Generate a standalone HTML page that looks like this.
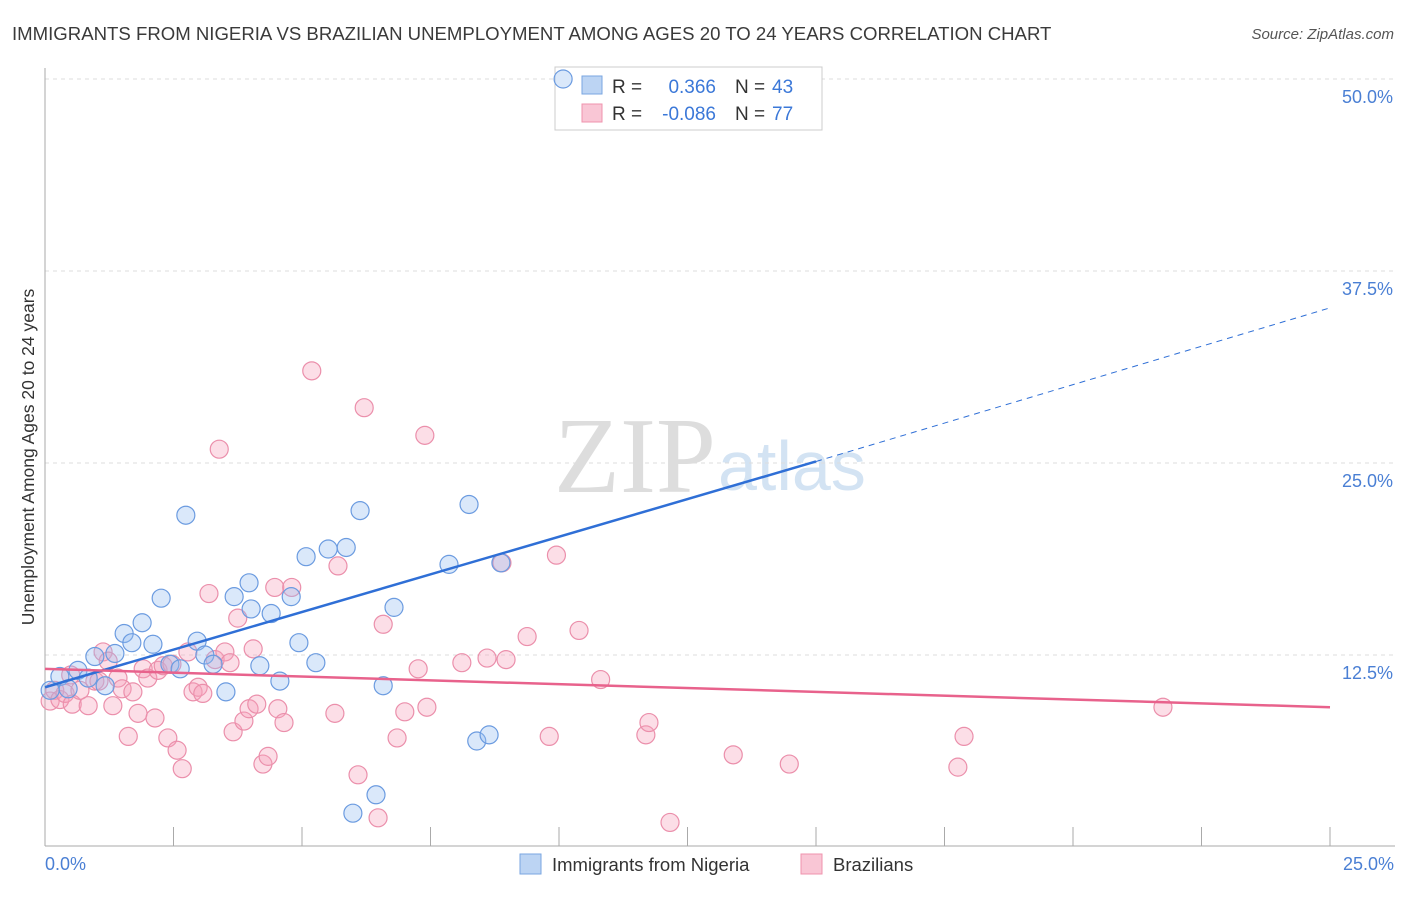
<!DOCTYPE html>
<html><head><meta charset="utf-8"><style>
body{margin:0;background:#fff;font-family:"Liberation Sans",sans-serif}
</style></head><body>
<svg width="1406" height="892" id="chart">
<text x="12" y="40" font-size="18.6" fill="#3a3a3a">IMMIGRANTS FROM NIGERIA VS BRAZILIAN UNEMPLOYMENT AMONG AGES 20 TO 24 YEARS CORRELATION CHART</text>
<text x="1394" y="39" font-size="15" fill="#555" font-style="italic" text-anchor="end">Source: ZipAtlas.com</text>
<text x="716" y="492" font-size="108" fill="#ddd" text-anchor="end" font-family="Liberation Serif">ZIP</text>
<text x="718" y="490" font-size="70" fill="#d3e3f3">atlas</text>
<g id="grid"></g>
<line x1="45" y1="68" x2="45" y2="846" stroke="#aaa"/>
<line x1="45" y1="846" x2="1395" y2="846" stroke="#aaa"/>
<text transform="translate(34,457) rotate(-90)" font-size="17.5" fill="#333" text-anchor="middle">Unemployment Among Ages 20 to 24 years</text>
<text x="45" y="870" font-size="18" fill="#4a7fd4">0.0%</text>
<text x="1394" y="870" font-size="18" fill="#4a7fd4" text-anchor="end">25.0%</text>
<g>
<rect x="555" y="67" width="267" height="63" fill="#fff" stroke="#ccc"/>
<rect x="582" y="76" width="20" height="18" fill="#bcd4f3" stroke="#7aa6e0"/>
<rect x="582" y="104" width="20" height="18" fill="#f9c6d5" stroke="#ef93ad"/>
<text x="612" y="93" font-size="19" fill="#333">R =</text><text x="716" y="93" font-size="19" fill="#3b78d8" text-anchor="end">0.366</text>
<text x="735" y="93" font-size="19" fill="#333">N =</text><text x="772" y="93" font-size="19" fill="#3b78d8">43</text>
<text x="612" y="120" font-size="19" fill="#333">R =</text><text x="716" y="120" font-size="19" fill="#3b78d8" text-anchor="end">-0.086</text>
<text x="735" y="120" font-size="19" fill="#333">N =</text><text x="772" y="120" font-size="19" fill="#3b78d8">77</text>
</g>
<g id="pts"></g>
<g id="lines"></g>
<g>
<rect x="520" y="854" width="21" height="20" fill="#bcd4f3" stroke="#7aa6e0"/>
<text x="552" y="871" font-size="18.5" fill="#333">Immigrants from Nigeria</text>
<rect x="801" y="854" width="21" height="20" fill="#f9c6d5" stroke="#ef93ad"/>
<text x="833" y="871" font-size="18.5" fill="#333">Brazilians</text>
</g>
</svg>
<script>
const yTicks=[12.5,25,37.5,50];
const xTicks=[0,2.5,5,7.5,10,12.5,15,17.5,20,22.5,25];
const blueX=[0.1,0.29,0.45,0.64,0.84,0.97,1.17,1.36,1.54,1.69,1.89,2.1,2.26,2.43,2.63,2.74,2.96,3.11,3.27,3.52,3.68,3.97,4.01,4.18,4.4,4.57,4.79,4.94,5.08,5.27,5.51,5.86,5.99,6.13,6.44,6.58,6.79,7.86,8.25,8.4,8.64,8.87,10.08];
const blueY=[10.2,11.1,10.3,11.5,11.0,12.4,10.5,12.6,13.9,13.3,14.6,13.2,16.2,11.9,11.6,21.6,13.4,12.5,11.9,10.1,16.3,17.2,15.5,11.8,15.2,10.8,16.3,13.3,18.9,12.0,19.4,19.5,2.2,21.9,3.4,10.5,15.6,18.4,22.3,6.9,7.3,18.5,50.0];
const pinkX=[0.1,0.19,0.29,0.39,0.53,0.68,0.84,0.97,1.13,1.23,1.32,1.42,1.5,1.62,1.71,1.81,1.91,2.0,2.14,2.2,2.3,2.39,2.47,2.57,2.67,2.78,2.88,2.98,3.07,3.19,3.31,3.39,3.5,3.6,3.66,3.75,3.87,3.97,4.05,4.12,4.24,4.34,4.47,4.53,4.65,4.8,5.19,5.64,5.7,6.09,6.21,6.48,6.58,6.85,7.0,7.26,7.39,7.43,8.11,8.6,8.89,8.97,9.38,9.81,9.95,10.39,10.81,11.69,11.75,12.16,13.39,14.48,17.76,17.88,21.75,0.5,1.05];
const pinkY=[9.5,10.2,9.6,10.0,9.3,10.2,9.2,10.8,12.7,12.1,9.2,11.0,10.3,7.2,10.1,8.7,11.6,11.0,8.4,11.5,11.8,7.1,11.9,6.3,5.1,12.7,10.1,10.4,10.0,16.5,12.2,25.9,12.7,12.0,7.5,14.9,8.2,9.0,12.9,9.3,5.4,5.9,16.9,9.0,8.1,16.9,31.0,8.7,18.3,4.7,28.6,1.9,14.5,7.1,8.8,11.6,26.8,9.1,12.0,12.3,18.5,12.2,13.7,7.2,19.0,14.1,10.9,7.3,8.1,1.6,6.0,5.4,5.2,7.2,9.1,11.2,10.8];
const NS='http://www.w3.org/2000/svg';
const X=v=>45+v*51.4, Y=v=>847-v*15.36;
const g=document.getElementById('grid'),P=document.getElementById('pts'),L=document.getElementById('lines');
function mk(t,a,p){const e=document.createElementNS(NS,t);for(const k in a)e.setAttribute(k,a[k]);p.appendChild(e);return e;}
yTicks.forEach(t=>{
 const l=mk('line',{x1:45,x2:1395,y1:Y(t),y2:Y(t),stroke:'#ddd','stroke-dasharray':'4,4'},g);
 
 
 const tx=mk('text',{x:1393,y:Y(t)+24,'font-size':18,fill:'#4a7fd4','text-anchor':'end'},g);
 tx.textContent=t.toFixed(1)+'%';
 
 
});
xTicks.forEach(t=>{
 const l=mk('line',{x1:X(t),x2:X(t),y1:827,y2:846,stroke:'#aaa'},g);
 
 
});
pinkX.forEach((x,i)=>{
 const c=mk('circle',{cx:X(x),cy:Y(pinkY[i]),r:9,fill:'rgba(245,160,185,0.35)',stroke:'#eb8fab','stroke-width':1.2},P);
 
 
});
blueX.forEach((x,i)=>{
 const c=mk('circle',{cx:X(x),cy:Y(blueY[i]),r:9,fill:'rgba(150,190,240,0.35)',stroke:'#6b9be0','stroke-width':1.2},P);
 
 
});
const bl=mk('line',{x1:X(0),y1:Y(10.4),x2:X(15),y2:Y(25.1),stroke:'#2f6fd6','stroke-width':2.5},L);


const bd=mk('line',{x1:X(15),y1:Y(25.1),x2:X(25),y2:Y(35.1),stroke:'#2f6fd6','stroke-width':1,'stroke-dasharray':'6,5'},L);


const pl=mk('line',{x1:X(0),y1:Y(11.6),x2:X(25),y2:Y(9.1),stroke:'#e8628c','stroke-width':2.5},L);


</script>
</body></html>
